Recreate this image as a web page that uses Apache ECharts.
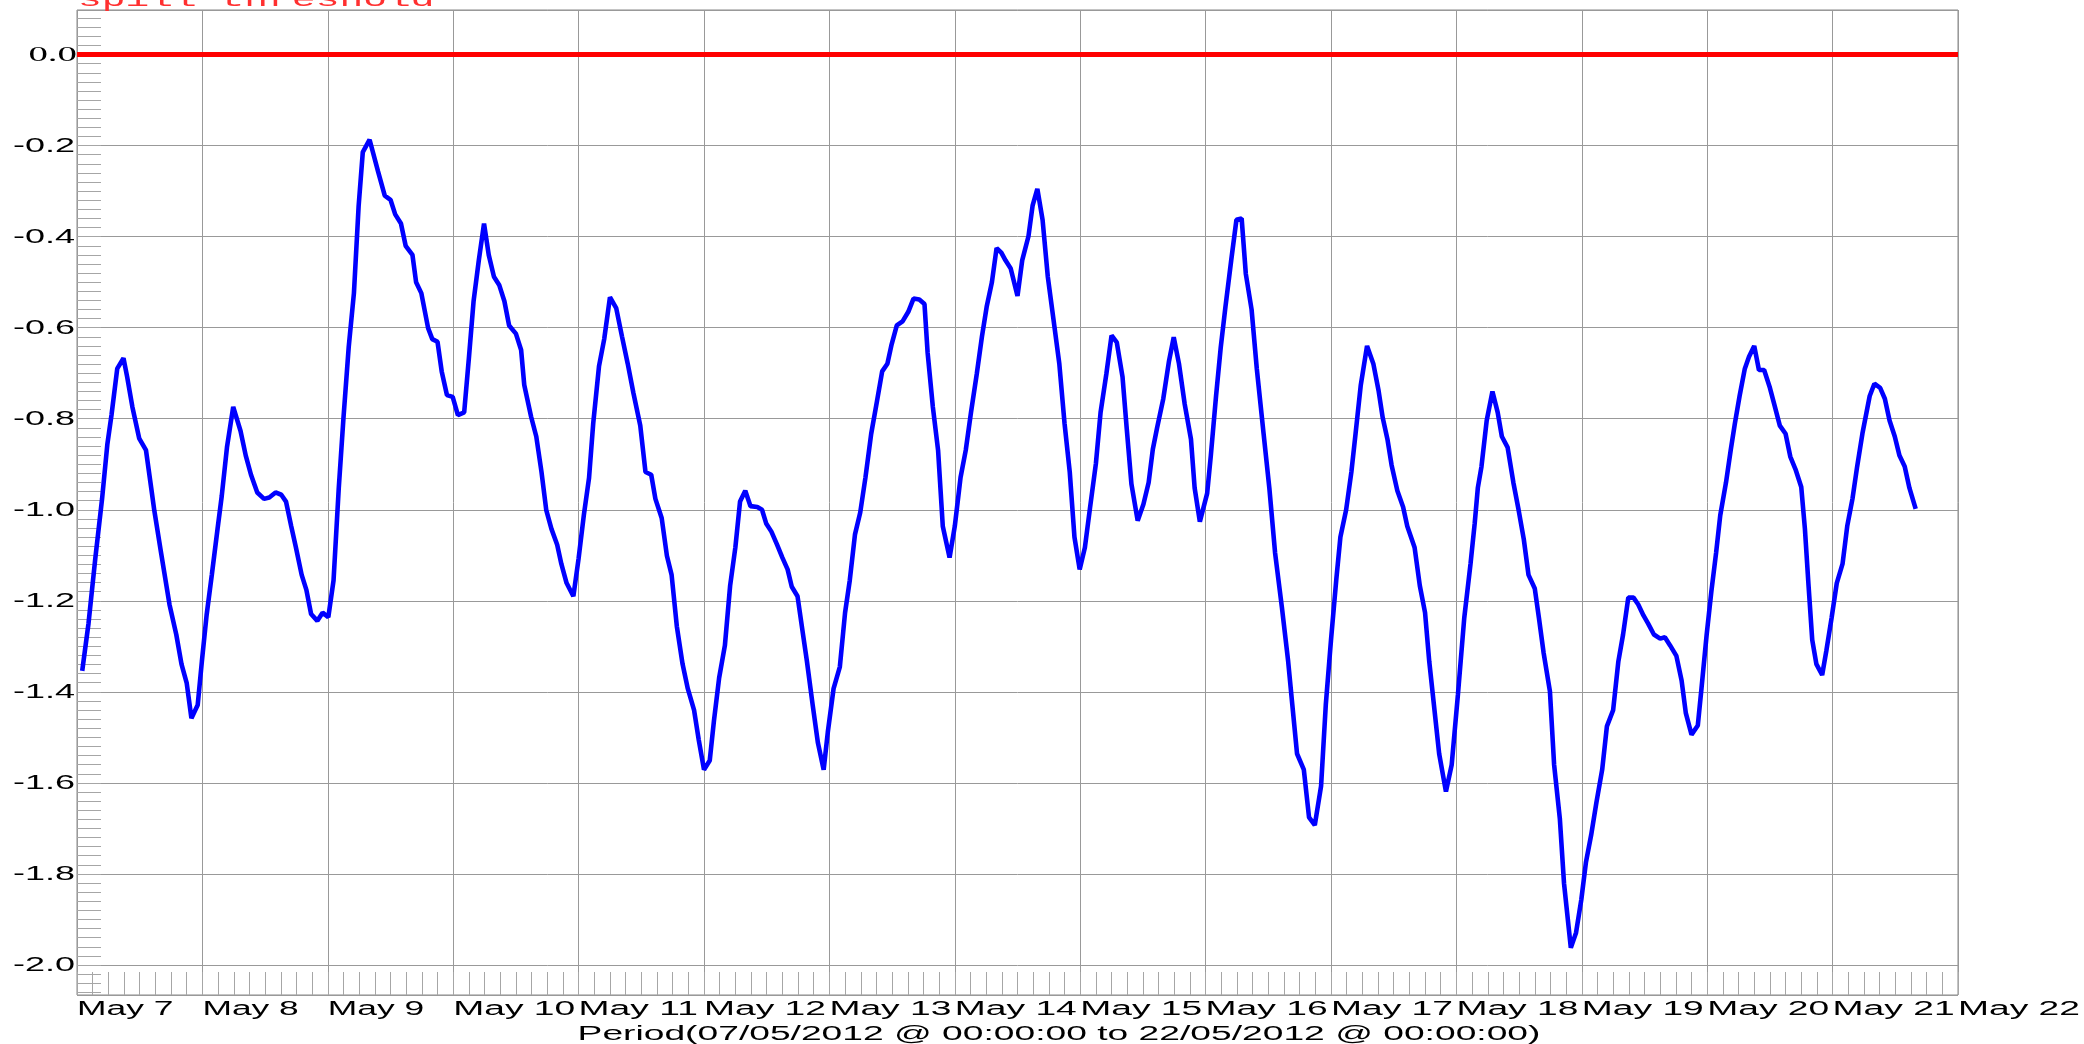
<!DOCTYPE html>
<html><head><meta charset="utf-8">
<script src="https://cdn.jsdelivr.net/npm/echarts@6/dist/echarts.min.js"></script>
<style>html,body{margin:0;padding:0;background:#fff;}#c{width:2084px;height:1044px;}</style>
</head><body><div id="c"></div>
<script>
// hours since 07/05/2012 00:00
const hours = [
1.0,2.2,3.5,4.8,5.8,6.6,7.7,8.9,9.6,10.6,11.9,13.2,14.2,14.8,16.1,17.7,19.0,20.0,21.0,21.9,
23.1,23.9,24.8,25.8,26.9,27.7,28.7,29.9,31.3,32.3,33.3,34.5,35.8,36.8,38.0,39.1,40.0,41.0,41.9,43.0,
43.9,44.8,46.0,47.0,48.1,49.1,50.1,51.0,52.0,53.0,53.9,54.7,56.0,57.6,58.9,60.0,60.9,62.0,62.9,64.2,
64.9,65.9,67.2,68.0,69.0,69.8,70.8,71.9,72.9,74.1,75.0,75.9,76.9,77.9,78.8,79.8,80.8,81.8,82.7,84.0,
85.0,85.6,86.9,87.9,88.9,89.8,90.8,91.9,92.7,93.7,95.0,96.0,97.0,98.0,
98.8,99.9,100.9,102.0,103.2,104.3,105.4,106.5,107.8,108.8,109.9,110.7,111.9,112.9,113.8,114.8,115.9,116.9,118.1,119.0,
120.0,121.1,121.9,122.9,124.0,125.0,126.0,126.9,127.9,128.9,130.2,131.1,131.9,132.9,134.0,135.0,136.0,136.8,137.9,138.8,
139.7,140.8,141.8,142.9,143.7,144.8,146.0,147.0,147.9,148.9,149.9,150.9,152.0,153.1,154.1,155.1,155.9,156.9,158.0,159.1,
160.1,161.2,162.2,162.8,163.8,164.8,165.7,167.0,168.0,169.1,170.1,171.1,172.2,173.2,174.1,175.1,176.0,176.9,177.7,178.7,
180.0,180.9,182.1,182.9,183.8,184.8,185.8,186.9,188.0,189.0,190.0,190.9,191.9,192.9,193.9,195.0,195.9,197.0,
198.0,199.0,200.1,200.9,201.8,203.0,204.1,205.1,205.9,206.7,207.9,209.0,209.9,210.9,212.0,213.2,213.9,214.9,216.3,217.0,
218.0,218.9,219.8,220.9,221.9,222.9,223.7,224.8,225.8,227.1,228.2,229.3,230.6,231.8,232.6,233.5,234.8,235.8,236.9,238.1,
239.0,240.0,241.0,241.8,242.9,243.9,244.7,245.7,246.9,248.1,249.1,249.9,250.8,251.6,252.7,253.8,254.6,256.0,257.0,258.0,
258.8,259.7,260.7,262.0,263.1,264.3,265.5,266.7,267.5,268.1,268.8,269.8,270.9,271.9,272.7,273.8,274.9,275.9,276.9,277.8,
279.0,279.8,280.7,281.9,282.7,283.8,284.6,285.9,286.9,287.9,288.8,289.8,290.8,291.9,292.8,294.0,295.0,295.9,296.9,
297.9,298.8,299.8,300.7,301.8,303.0,303.9,304.9,306.1,307.1,307.9,309.0,310.2,310.9,311.9,312.8,313.7,314.5,315.6,316.5,
317.3,318.2,319.2,320.0,321.0,321.9,322.9,324.0,324.9,325.9,327.0,327.9,328.9,330.0,330.7,331.4,332.1,332.9,334.0,334.8,
335.8,336.8,337.9,338.8,339.8,340.7,341.7,343.1,344.0,345.1,346.0,346.9,347.9,348.8,349.8,350.7,351.9
];
const values = [
-1.354,-1.25,-1.107,-0.976,-0.857,-0.792,-0.69,-0.667,-0.708,-0.774,-0.843,-0.869,-0.952,-1.002,-1.095,-1.208,-1.274,-1.339,-1.381,-1.458,
-1.429,-1.333,-1.232,-1.143,-1.042,-0.970,-0.863,-0.774,-0.827,-0.881,-0.923,-0.962,-0.976,-0.973,-0.962,-0.967,-0.982,-1.036,-1.083,-1.143,
-1.176,-1.229,-1.244,-1.226,-1.236,-1.155,-0.952,-0.798,-0.643,-0.524,-0.333,-0.214,-0.187,-0.256,-0.31,-0.319,-0.351,-0.371,-0.42,-0.44,
-0.5,-0.524,-0.601,-0.625,-0.631,-0.696,-0.748,-0.752,-0.792,-0.786,-0.667,-0.542,-0.452,-0.371,-0.44,-0.488,-0.506,-0.542,-0.595,-0.613,
-0.649,-0.726,-0.795,-0.839,-0.917,-1.0,-1.042,-1.077,-1.119,-1.161,-1.19,-1.107,-1.012,-0.93,
-0.81,-0.685,-0.625,-0.533,-0.557,-0.619,-0.679,-0.744,-0.815,-0.917,-0.923,-0.976,-1.018,-1.101,-1.143,-1.256,-1.339,-1.393,-1.44,-1.506,
-1.571,-1.551,-1.464,-1.369,-1.298,-1.167,-1.083,-0.982,-0.958,-0.992,-0.994,-1.0,-1.03,-1.048,-1.077,-1.105,-1.131,-1.169,-1.19,-1.262,
-1.333,-1.429,-1.512,-1.571,-1.488,-1.393,-1.345,-1.226,-1.155,-1.054,-1.006,-0.929,-0.833,-0.762,-0.696,-0.679,-0.637,-0.595,-0.586,-0.565,
-0.536,-0.538,-0.548,-0.655,-0.774,-0.869,-1.036,-1.105,-1.036,-0.929,-0.869,-0.786,-0.702,-0.619,-0.554,-0.5,-0.425,-0.435,-0.452,-0.47,
-0.53,-0.452,-0.399,-0.331,-0.295,-0.363,-0.488,-0.583,-0.679,-0.81,-0.917,-1.06,-1.131,-1.083,-0.994,-0.899,-0.786,-0.702,
-0.617,-0.632,-0.708,-0.821,-0.943,-1.024,-0.988,-0.940,-0.867,-0.821,-0.756,-0.673,-0.621,-0.679,-0.768,-0.845,-0.952,-1.026,-0.964,-0.881,
-0.75,-0.643,-0.554,-0.452,-0.363,-0.36,-0.482,-0.56,-0.69,-0.833,-0.952,-1.095,-1.214,-1.333,-1.429,-1.536,-1.571,-1.676,-1.693,-1.607,
-1.429,-1.286,-1.155,-1.06,-1.0,-0.917,-0.833,-0.726,-0.64,-0.679,-0.738,-0.798,-0.845,-0.902,-0.958,-0.994,-1.036,-1.083,-1.167,-1.226,
-1.333,-1.429,-1.536,-1.619,-1.56,-1.405,-1.238,-1.119,-1.03,-0.952,-0.905,-0.804,-0.74,-0.786,-0.839,-0.863,-0.940,-1.0,-1.065,-1.143,
-1.173,-1.238,-1.315,-1.399,-1.56,-1.679,-1.821,-1.962,-1.929,-1.857,-1.774,-1.714,-1.643,-1.571,-1.476,-1.44,-1.333,-1.274,-1.193,
-1.193,-1.208,-1.232,-1.25,-1.274,-1.283,-1.28,-1.298,-1.321,-1.375,-1.446,-1.494,-1.474,-1.393,-1.274,-1.179,-1.095,-1.012,-0.94,-0.869,
-0.81,-0.75,-0.69,-0.664,-0.64,-0.693,-0.693,-0.732,-0.771,-0.815,-0.833,-0.883,-0.911,-0.95,-1.042,-1.167,-1.286,-1.339,-1.363,-1.31,
-1.238,-1.161,-1.119,-1.036,-0.976,-0.905,-0.833,-0.75,-0.723,-0.732,-0.756,-0.804,-0.839,-0.881,-0.905,-0.952,-0.998
];
const thresholdValue = 0.0;
const thresholdLabel = 'spill threshold';
const dayTicks = [0,24,48,72,96,120,144,168,192,216,240,264,288,312,336,360];
const dayLabels = ['May 7','May 8','May 9','May 10','May 11','May 12','May 13','May 14','May 15','May 16','May 17','May 18','May 19','May 20','May 21','May 22'];
const yTicks = [0,-0.2,-0.4,-0.6,-0.8,-1.0,-1.2,-1.4,-1.6,-1.8,-2.0];
const yLabels = ['0.0','-0.2','-0.4','-0.6','-0.8','-1.0','-1.2','-1.4','-1.6','-1.8','-2.0'];
const xTitle = 'Period(07/05/2012 @ 00:00:00 to 22/05/2012 @ 00:00:00)';

const Y_MIN = -2.066, Y_MAX = 0.098;
const MINOR_MIN = -2.06, MINOR_MAX = 0.08;
const G = {left:77, top:10, width:1881, height:985};
const pxPerUnit = G.height / (Y_MAX - Y_MIN);
const mTop = G.top + (Y_MAX - MINOR_MAX) * pxPerUnit;
const mH = (MINOR_MAX - MINOR_MIN) * pxPerUnit;

const chart = echarts.init(document.getElementById('c'), null, {renderer:'canvas', width:2084, height:1044});
const data = hours.map((h, i) => [h, values[i]]);
const GRIDC = '#999';
const option = {
  animation: false,
  backgroundColor: '#fff',
  grid: [
    {left:G.left, top:G.top, width:G.width, height:G.height, show:true, borderColor:'#888', borderWidth:1, backgroundColor:'transparent', containLabel:false},
    {left:G.left, top:mTop, width:G.width, height:mH, show:false, containLabel:false}
  ],
  xAxis: [
    {type:'value', gridIndex:0, min:0, max:360, interval:24, axisLine:{show:false}, axisTick:{show:false}, axisLabel:{show:false},
     splitLine:{show:true, lineStyle:{color:GRIDC, width:1}}},
    {type:'value', gridIndex:0, min:0, max:360, interval:3, position:'bottom', axisLine:{show:false},
     axisTick:{show:true, inside:true, length:23, lineStyle:{color:'#a6a6a6', width:1}}, axisLabel:{show:false}, splitLine:{show:false}},
    {type:'value', gridIndex:1, min:0, max:360, show:false}
  ],
  yAxis: [
    {type:'value', gridIndex:0, min:Y_MIN, max:Y_MAX, splitNumber:10, axisLine:{show:false}, axisTick:{show:false}, axisLabel:{show:false},
     splitLine:{show:true, lineStyle:{color:GRIDC, width:1}}},
    {type:'value', gridIndex:1, min:MINOR_MIN, max:MINOR_MAX, interval:0.02, position:'left', axisLine:{show:false},
     axisTick:{show:true, inside:true, length:24, lineStyle:{color:'#a6a6a6', width:1}}, axisLabel:{show:false}, splitLine:{show:false}}
  ],
  series: [{
    type:'line', xAxisIndex:0, yAxisIndex:0, data:data, symbol:'none', showSymbol:false, smooth:false,
    lineStyle:{color:'#0000ff', width:4.6}, z:5,
    markLine:{silent:true, symbol:'none', animation:false, label:{show:false},
      lineStyle:{color:'#ff0000', width:5, type:'solid'}, data:[{yAxis:thresholdValue}]}
  }]
};
chart.setOption(option);

const px = h => chart.convertToPixel({xAxisIndex:0}, h);
const py = v => chart.convertToPixel({yAxisIndex:0}, v);
const SANS = 'Liberation Sans, Arial, sans-serif';
const graphics = [];
dayTicks.forEach((h, i) => {
  const sx = dayLabels[i].length > 5 ? 1.86 : 1.77;
  graphics.push({type:'text', x:px(h), y:1009, scaleX:sx, z:10, silent:true,
    style:{text:dayLabels[i], fontFamily:SANS, fontSize:20, fill:'#000',
      align:'left', verticalAlign:'middle', textAlign:'left', textVerticalAlign:'middle'}});
});
yTicks.forEach((v, i) => {
  const isZero = v === 0;
  graphics.push({type:'text', x: isZero ? 77 : 75, y:py(v) + 1, scaleX: isZero ? 1.85 : 1.8, z:10, silent:true,
    style:{text:yLabels[i], fontFamily: isZero ? 'Liberation Serif, serif' : SANS,
      fontSize: isZero ? 21 : 20, fill:'#000',
      align:'right', verticalAlign:'middle', textAlign:'right', textVerticalAlign:'middle'}});
});
graphics.push({type:'text', x:1059, y:1034, scaleX:1.86, z:10, silent:true,
  style:{text:xTitle, fontFamily:SANS, fontSize:20, fill:'#000',
    align:'center', verticalAlign:'middle', textAlign:'center', textVerticalAlign:'middle'}});
graphics.push({type:'text', x:78, y:0, scaleX:1.8, z:10, silent:true,
  style:{text:thresholdLabel, fontFamily:'Liberation Mono, monospace', fontSize:22, fill:'#ff3030',
    align:'left', verticalAlign:'middle', textAlign:'left', textVerticalAlign:'middle'}});
chart.setOption({graphic: graphics});
</script>
</body></html>
